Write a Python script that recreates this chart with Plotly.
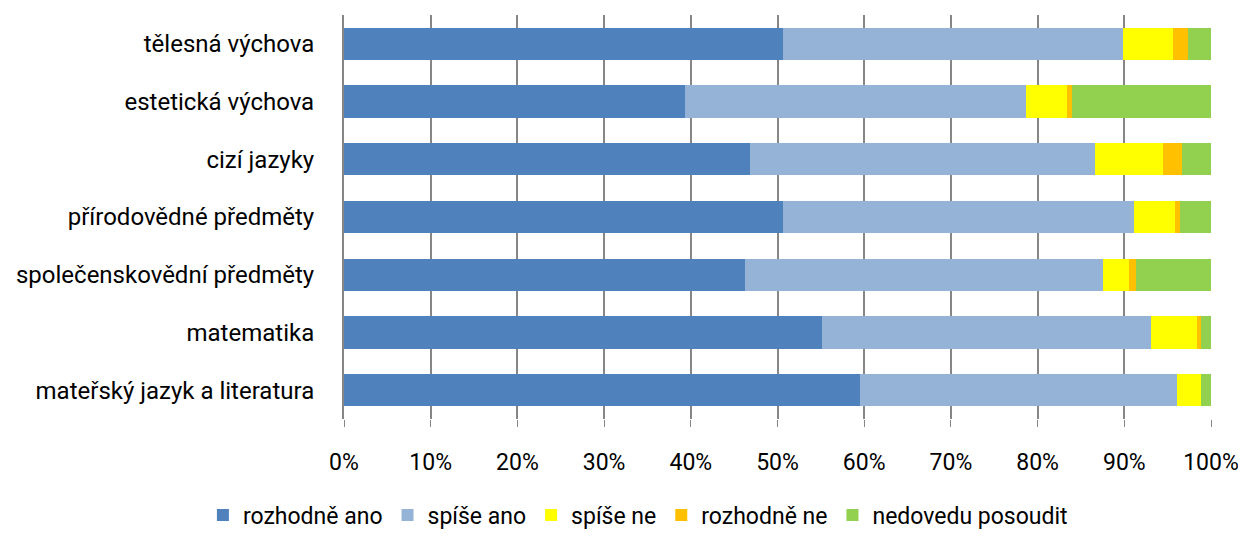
import plotly.graph_objects as go

categories = [
    "mateřský jazyk a literatura",
    "matematika",
    "společenskovědní předměty",
    "přírodovědné předměty",
    "cizí jazyky",
    "estetická výchova",
    "tělesná výchova",
]

rozhodne_ano = [59.5, 55.1, 46.2, 50.6, 46.8, 39.3, 50.6]
spise_ano = [36.6, 38.0, 41.4, 40.5, 39.8, 39.4, 39.2]
spise_ne = [2.7, 5.3, 2.9, 4.7, 7.9, 4.7, 5.8]
rozhodne_ne = [0.0, 0.4, 0.9, 0.6, 2.1, 0.6, 1.8]
nedovedu = [1.2, 1.2, 8.6, 3.6, 3.4, 16.0, 2.6]

series = [
    ("rozhodně ano", rozhodne_ano, "#4F81BD"),
    ("spíše ano", spise_ano, "#95B3D7"),
    ("spíše ne", spise_ne, "#FFFF00"),
    ("rozhodně ne", rozhodne_ne, "#FFC000"),
    ("nedovedu posoudit", nedovedu, "#92D050"),
]

tick_vals = [0, 10, 20, 30, 40, 50, 60, 70, 80, 90, 100]
tick_text = [f"{v}%" for v in tick_vals]

FONT = "Roboto, sans-serif"

fig = go.Figure()
for name, vals, color in series:
    fig.add_trace(go.Bar(
        y=categories, x=vals, name=name, orientation="h",
        marker=dict(color=color, line=dict(width=0)),
    ))

fig.update_layout(
    barmode="stack",
    barnorm="percent",
    bargap=0.44,
    width=1246, height=536,
    margin=dict(l=336, r=43, t=7, b=114),
    plot_bgcolor="white", paper_bgcolor="white",
    font=dict(family=FONT, size=23, color="#000000"),
    xaxis=dict(
        range=[0, 100], tickvals=tick_vals, ticktext=tick_text,
        showgrid=True, gridcolor="#868686", gridwidth=2,
        zeroline=False, showline=False,
        ticks="outside", ticklen=7, tickcolor="#868686", tickwidth=1,
        tickfont=dict(size=23), ticklabelstandoff=15, fixedrange=True,
    ),
    yaxis=dict(
        showline=True, linecolor="#868686", linewidth=2,
        ticks="", tickfont=dict(size=24),
        ticklabelstandoff=23, fixedrange=True,
    ),
    legend=dict(
        orientation="h", x=0.339, xanchor="center", y=-0.238, yanchor="middle",
        font=dict(size=23), traceorder="normal", itemwidth=30,
    ),
    showlegend=True,
)

fig.write_html("out.html")
